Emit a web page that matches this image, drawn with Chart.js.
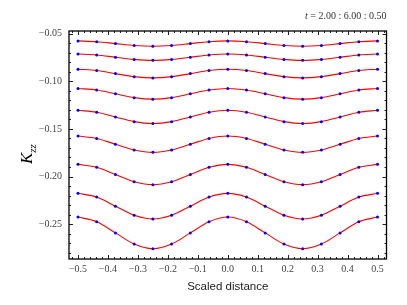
<!DOCTYPE html>
<html lang="en">
<head>
  <meta charset="UTF-8" />
  <title>Kzz vs scaled distance</title>
  <script src="https://cdn.jsdelivr.net/npm/chart.js"></script>
  <style>
    html, body { margin: 0; padding: 0; background: #fff; }
    #wrap { width: 407px; height: 305px; }
  </style>
</head>
<body>
  <div id="wrap"><canvas id="kzzChart" width="407" height="305"></canvas></div>

  <script>
    // sample positions (scaled distance)
    const xs = [-0.5, -0.4375, -0.375, -0.3125, -0.25, -0.1875, -0.125, -0.0625, 0.0,
                0.0625, 0.125, 0.1875, 0.25, 0.3125, 0.375, 0.4375, 0.5];

    const times = ['2.00', '2.50', '3.00', '3.50', '4.00', '4.50', '5.00', '5.50', '6.00'];

    // K_zz, one array per time
    const k200 = [-0.0577,-0.0585,-0.0605,-0.0625,-0.0633,-0.0625,-0.0605,-0.0585,-0.0577,-0.0585,-0.0605,-0.0625,-0.0633,-0.0625,-0.0605,-0.0585,-0.0577];
    const k250 = [-0.0714,-0.0724,-0.0748,-0.0771,-0.0781,-0.0771,-0.0748,-0.0724,-0.0714,-0.0724,-0.0748,-0.0771,-0.0781,-0.0771,-0.0748,-0.0724,-0.0714];
    const k300 = [-0.0874,-0.0887,-0.0920,-0.0952,-0.0965,-0.0952,-0.0920,-0.0887,-0.0874,-0.0887,-0.0920,-0.0952,-0.0965,-0.0952,-0.0920,-0.0887,-0.0874];
    const k350 = [-0.1076,-0.1092,-0.1132,-0.1172,-0.1188,-0.1172,-0.1132,-0.1092,-0.1076,-0.1092,-0.1132,-0.1172,-0.1188,-0.1172,-0.1132,-0.1092,-0.1076];
    const k400 = [-0.1305,-0.1325,-0.1375,-0.1424,-0.1444,-0.1424,-0.1375,-0.1325,-0.1305,-0.1325,-0.1375,-0.1424,-0.1444,-0.1424,-0.1375,-0.1325,-0.1305];
    const k450 = [-0.1575,-0.1600,-0.1661,-0.1721,-0.1746,-0.1721,-0.1661,-0.1600,-0.1575,-0.1600,-0.1661,-0.1721,-0.1746,-0.1721,-0.1661,-0.1600,-0.1575];
    const k500 = [-0.1872,-0.1903,-0.1979,-0.2054,-0.2085,-0.2054,-0.1979,-0.1903,-0.1872,-0.1903,-0.1979,-0.2054,-0.2085,-0.2054,-0.1979,-0.1903,-0.1872];
    const k550 = [-0.2176,-0.2215,-0.2311,-0.2406,-0.2445,-0.2406,-0.2311,-0.2215,-0.2176,-0.2215,-0.2311,-0.2406,-0.2445,-0.2406,-0.2311,-0.2215,-0.2176];
    const k600 = [-0.2425,-0.2474,-0.2591,-0.2708,-0.2757,-0.2708,-0.2591,-0.2474,-0.2425,-0.2474,-0.2591,-0.2708,-0.2757,-0.2708,-0.2591,-0.2474,-0.2425];

    const xTicks = [-0.5, -0.4, -0.3, -0.2, -0.1, 0.0, 0.1, 0.2, 0.3, 0.4, 0.5];
    const yTicks = [-0.25, -0.20, -0.15, -0.10, -0.05];

    const series = [k200, k250, k300, k350, k400, k450, k500, k550, k600];

    const serif = "'Liberation Serif', 'DejaVu Serif', serif";

    // inward ticks on all four sides + frame + extra labels
    const frameTicks = {
      id: 'frameTicks',
      afterDraw(chart) {
        const { ctx, chartArea: a, scales: { x, y } } = chart;
        ctx.save();
        ctx.strokeStyle = '#222';
        ctx.lineWidth = 1;
        ctx.beginPath();
        for (let i = -26; i <= 26; i++) {
          const px = Math.round(x.getPixelForValue(i * 0.02)) + 0.5;
          const len = i % 5 === 0 ? 4 : 2;
          ctx.moveTo(px, a.bottom); ctx.lineTo(px, a.bottom - len);
          ctx.moveTo(px, a.top); ctx.lineTo(px, a.top + len);
        }
        for (let i = -28; i <= -5; i++) {
          const py = Math.round(y.getPixelForValue(i * 0.01)) + 0.5;
          const len = i % 5 === 0 ? 4 : 2;
          ctx.moveTo(a.left, py); ctx.lineTo(a.left + len, py);
          ctx.moveTo(a.right, py); ctx.lineTo(a.right - len, py);
        }
        ctx.stroke();

        ctx.strokeStyle = '#000';
        ctx.lineWidth = 1.3;
        ctx.strokeRect(a.left, a.top, a.right - a.left, a.bottom - a.top);

        // title, top right
        ctx.fillStyle = '#333';
        ctx.textBaseline = 'middle';
        ctx.textAlign = 'right';
        ctx.font = '10px ' + serif;
        const rest = ' = ' + times[0] + ' : ' + times[times.length - 1] + ' : 0.50';
        ctx.fillText(rest, a.right, 16);
        const w = ctx.measureText(rest).width;
        ctx.font = 'italic 10px ' + serif;
        ctx.fillText('t', a.right - w, 16);

        // y axis label K_zz
        ctx.translate(32, 149);
        ctx.rotate(-Math.PI / 2);
        ctx.fillStyle = '#000';
        ctx.textAlign = 'left';
        ctx.textBaseline = 'alphabetic';
        ctx.font = 'italic 17px ' + serif;
        const kw = ctx.measureText('K').width;
        ctx.fillText('K', -15, 0);
        ctx.font = 'italic 11px ' + serif;
        ctx.fillText('zz', -15 + kw, 4);
        ctx.restore();
      }
    };

    const datasets = series.map((vals, i) => ({
      label: 't = ' + times[i],
      data: xs.map((xv, j) => ({ x: xv, y: vals[j] })),
      showLine: true,
      borderColor: 'rgb(255, 0, 0)',
      borderWidth: 1.1,
      cubicInterpolationMode: 'monotone',
      pointRadius: 1.5,
      pointBackgroundColor: 'rgb(0, 0, 255)',
      pointBorderWidth: 0,
      pointHoverRadius: 1.5
    }));

    new Chart(document.getElementById('kzzChart').getContext('2d'), {
      type: 'scatter',
      data: { datasets },
      options: {
        responsive: false,
        animation: false,
        events: [],
        layout: { padding: { top: 31, right: 20.5, left: 0, bottom: 0 } },
        plugins: { legend: { display: false }, tooltip: { enabled: false } },
        scales: {
          x: {
            type: 'linear',
            min: -0.53,
            max: 0.53,
            afterBuildTicks: s => { s.ticks = xTicks.map(v => ({ value: v })); },
            afterFit: s => { s.height = 46; },
            grid: { display: false, drawTicks: false },
            border: { display: false },
            ticks: {
              padding: 4,
              color: '#444',
              font: { family: serif, size: 10 },
              callback: v => (v < -1e-9 ? '\u2212' : '') + Math.abs(v).toFixed(1)
            },
            title: {
              display: true,
              text: 'Scaled distance',
              color: '#222',
              font: { family: "'Liberation Sans', 'DejaVu Sans', sans-serif", size: 11.5 },
              padding: { top: 0, bottom: 11 }
            }
          },
          y: {
            type: 'linear',
            min: -0.2865,
            max: -0.0473,
            afterBuildTicks: s => { s.ticks = yTicks.map(v => ({ value: v })); },
            afterFit: s => { s.width = 69; },
            grid: { display: false, drawTicks: false },
            border: { display: false },
            ticks: {
              padding: 7,
              color: '#444',
              font: { family: serif, size: 10 },
              callback: v => '\u2212' + Math.abs(v).toFixed(2)
            }
          }
        }
      },
      plugins: [frameTicks]
    });
  </script>
</body>
</html>
